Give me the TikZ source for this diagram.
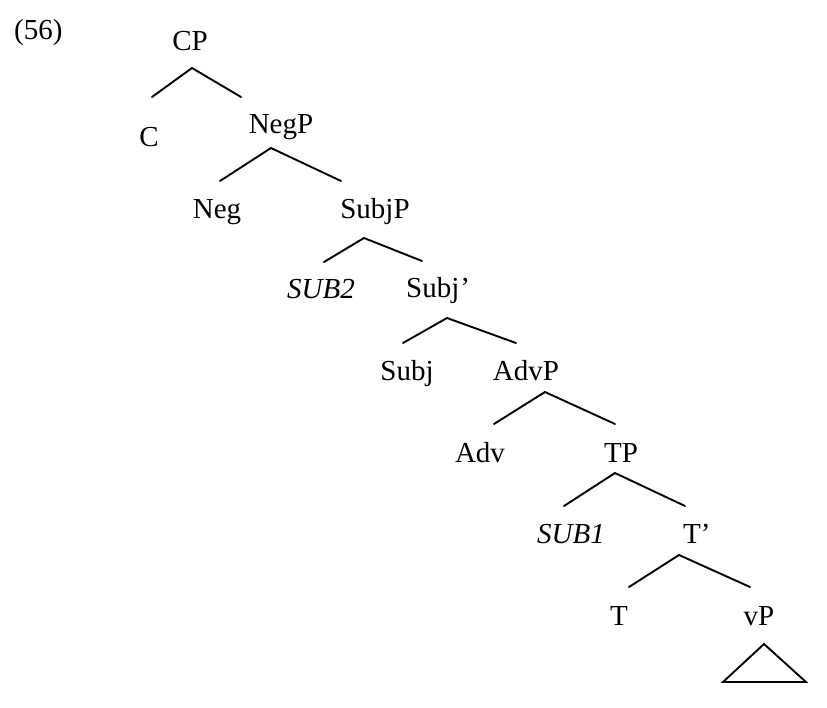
\documentclass[tikz,border=0pt]{standalone}
\usepackage{fontspec}
\setmainfont{Liberation Serif}
\begin{document}
\begin{tikzpicture}[x=1pt,y=-1pt,
  lbl/.style={inner sep=0pt,anchor=base,font=\fontsize{29}{35}\selectfont},
  lbll/.style={lbl,anchor=base west},
  br/.style={line width=1.9pt,line cap=round,line join=miter}]
\useasboundingbox (0,0) rectangle (827,708);
% labels
\node[lbll] (ex) at (14,40) {(56)};
\node[lbl] (CP) at (190,51) {CP};
\node[lbl] (C) at (149,147) {C};
\node[lbl] (NegP) at (281,134) {NegP};
\node[lbl] (Neg) at (217,219) {Neg};
\node[lbl] (SubjP) at (375,219) {SubjP};
\node[lbl] (SUB2) at (321,299) {\itshape SUB2};
\node[lbll] (Subjb) at (406,298) {Subj\kern1pt’};
\node[lbl] (Subj) at (407,381) {Subj};
\node[lbl] (AdvP) at (526,381) {AdvP};
\node[lbl] (Adv) at (480,462) {Adv};
\node[lbl] (TP) at (621,462) {TP};
\node[lbl] (SUB1) at (571,543) {\itshape SUB1};
\node[lbll] (Tb) at (683,543) {T’};
\node[lbl] (T) at (619,625) {T};
\node[lbl] (vP) at (759,625) {vP};
% branch points
\coordinate (cpa) at (192,68);  \coordinate (cpl) at (152,97);  \coordinate (cpr) at (241,97);
\coordinate (nga) at (271,148); \coordinate (ngl) at (220,181); \coordinate (ngr) at (341,181);
\coordinate (sja) at (364,238); \coordinate (sjl) at (324,262); \coordinate (sjr) at (422,261);
\coordinate (sba) at (447,318); \coordinate (sbl) at (403,343); \coordinate (sbr) at (516,343);
\coordinate (ava) at (545,392); \coordinate (avl) at (494,424); \coordinate (avr) at (615,424);
\coordinate (tpa) at (615,473); \coordinate (tpl) at (564,506); \coordinate (tpr) at (685,506);
\coordinate (tba) at (679,555); \coordinate (tbl) at (629,587); \coordinate (tbr) at (750,587);
\draw[br] (cpl) -- (cpa) -- (cpr);
\draw[br] (ngl) -- (nga) -- (ngr);
\draw[br] (sjl) -- (sja) -- (sjr);
\draw[br] (sbl) -- (sba) -- (sbr);
\draw[br] (avl) -- (ava) -- (avr);
\draw[br] (tpl) -- (tpa) -- (tpr);
\draw[br] (tbl) -- (tba) -- (tbr);
% triangle under vP
\coordinate (tra) at (764,644); \coordinate (trl) at (723,682); \coordinate (trr) at (806,682);
\draw[br,line join=miter] (tra) -- (trl) -- (trr) -- cycle;
\end{tikzpicture}
\end{document}
